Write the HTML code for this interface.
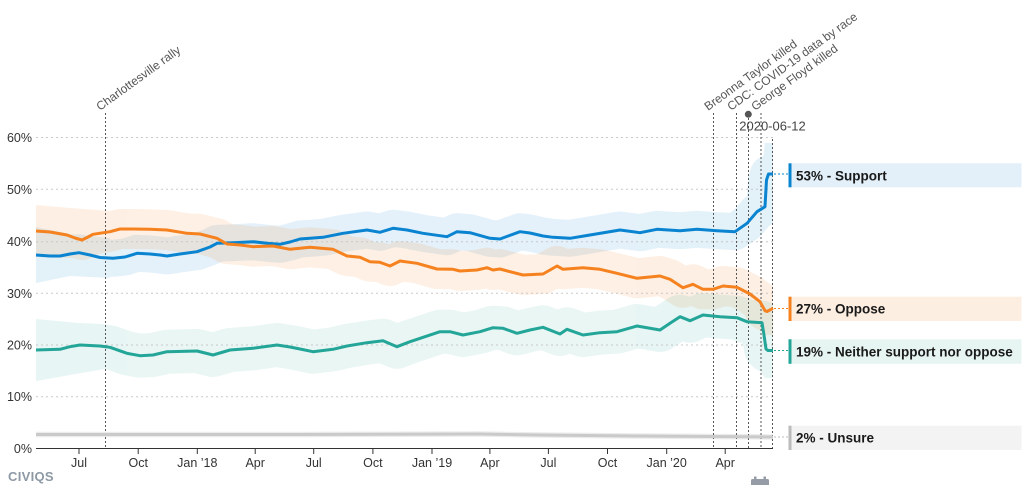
<!DOCTYPE html>
<html>
<head>
<meta charset="utf-8">
<style>
html,body{margin:0;padding:0;background:#fff;}
svg{display:block;font-family:"Liberation Sans",Arial,sans-serif;}
</style>
</head>
<body>
<svg width="1024" height="485" viewBox="0 0 1024 485" xmlns="http://www.w3.org/2000/svg">
<defs>
<clipPath id="plot"><rect x="36" y="100" width="737" height="348"/></clipPath>
</defs>
<!-- confidence bands -->
<g clip-path="url(#plot)">
<g opacity="0.11">
<path fill="none" stroke="#0a84d0" stroke-width="37" stroke-linejoin="round" stroke-linecap="butt" d="M36,255 L50,256 L60,256 L70,254 L79,252.7 L90,255 L100,257.5 L113,258.3 L125,257 L137,253.3 L150,254 L160,255 L167,256 L180,254 L197,251.7 L210,247 L217,243.3 L233,242.7 L253,241.7 L267,243.3 L280,244.3 L290,242 L300,239 L310,238.3 L323,237.3 L343,233.3 L367,230 L380,232.3 L393,228.3 L407,230 L423,233.3 L447,236.7 L457,231.7 L470,232.7 L490,238.3 L500,239 L520,231.7 L530,233 L543,236 L553,237.3 L570,238.3 L590,235 L620,230 L640,232.7 L657,229.3 L680,230.7 L697,229.3 L717,230.7 L735,231.7 L747,223.3 L757,211.7 L765,206.7 L766.5,180 L768.5,174 L773,174"/>
<polygon fill="#0a84d0" points="36,227 70,234 110,238 110,278 70,276 36,283"/>
<polygon fill="#0a84d0" points="737,216 760,184 765,143 773,143 773,205 765,215 760,228 737,247"/>
</g>
<g opacity="0.12">
<path fill="none" stroke="#f5821f" stroke-width="40" stroke-linejoin="round" stroke-linecap="butt" d="M36,231 L50,232 L67,235 L75,238 L82,240 L88,237 L93,234.3 L110,231.7 L120,229 L133,229 L150,229.3 L167,230 L187,233.3 L200,234 L217,238.3 L227,244 L240,245 L253,246.7 L273,246 L290,249.3 L310,247.3 L333,249.3 L347,256 L360,257.3 L370,261.7 L380,262.3 L390,266 L400,261 L417,263.3 L437,269 L453,269.3 L460,271 L477,270 L487,267.7 L493,270 L500,269 L510,271.7 L523,275 L543,274 L557,266 L563,269.3 L583,267.7 L600,269.3 L617,273.3 L637,278.3 L660,276 L670,279.3 L683,287.7 L693,284.3 L703,289.3 L713,289.3 L723,286 L737,287.3 L750,294 L760,301.7 L765,310.7 L767,311.5 L773,308.3"/>
<polygon fill="#f5821f" points="36,205 70,208 110,211 110,252 70,258 36,257"/>
<polygon fill="#f5821f" points="740,270 765,285 773,285 773,335 765,335 740,305"/>
</g>
<g opacity="0.1">
<path fill="none" stroke="#23a598" stroke-width="44" stroke-linejoin="round" stroke-linecap="butt" d="M36,350 L60,349.3 L70,346.7 L80,345 L100,346 L110,347.3 L127,353.3 L140,355.7 L153,355 L167,351.7 L197,351 L213,355 L230,350 L253,348.3 L277,345 L290,347 L300,349 L313,351.7 L333,349.3 L347,346 L367,342.7 L383,340.7 L397,346.7 L410,341.7 L440,331.7 L450,331.7 L463,335 L480,331.7 L493,327.7 L503,328.3 L517,333.3 L530,330 L543,327.3 L560,334 L567,329.3 L583,335 L600,332.7 L617,331.7 L637,326 L660,330 L670,323.3 L680,316.7 L690,320.7 L703,315 L720,316.7 L737,317.7 L747,321.7 L762,322.7 L764,335 L766,349 L768,350.5 L773,350.5"/>
<polygon fill="#23a598" points="36,319 110,326 110,368 36,381"/>
<polygon fill="#23a598" points="740,300 762,300 765,322 773,322 773,378 765,378 740,340"/>
</g>
<path fill="none" stroke="#ececec" stroke-width="5.5" d="M36,434.5 L300,434.5 L480,434 L540,435 L640,436 L773,437"/>
</g>

<!-- gridlines -->
<g stroke="#c8c8c8" stroke-width="1" stroke-dasharray="2,3">
<line x1="36" y1="137.5" x2="773" y2="137.5"/>
<line x1="36" y1="189.3" x2="773" y2="189.3"/>
<line x1="36" y1="241.7" x2="773" y2="241.7"/>
<line x1="36" y1="293.3" x2="773" y2="293.3"/>
<line x1="36" y1="345" x2="773" y2="345"/>
<line x1="36" y1="396.7" x2="773" y2="396.7"/>
</g>

<!-- event lines -->
<g stroke="#555" stroke-width="1" stroke-dasharray="2,2">
<line x1="105.5" y1="113" x2="105.5" y2="448"/>
<line x1="713.5" y1="113" x2="713.5" y2="448"/>
<line x1="736.5" y1="113" x2="736.5" y2="448"/>
<line x1="748.5" y1="114" x2="748.5" y2="448"/>
<line x1="761" y1="113" x2="761" y2="448"/>
<line x1="772.5" y1="139" x2="772.5" y2="448"/>
</g>
<circle cx="748.3" cy="114.3" r="3.5" fill="#555"/>

<!-- series -->
<path fill="none" stroke="#cacaca" stroke-width="3" stroke-linejoin="round" d="M36,434.5 L300,434.5 L480,434 L540,435 L640,436 L773,437"/>
<path fill="none" stroke="#0a84d0" stroke-width="3" stroke-linejoin="round" d="M36,255 L50,256 L60,256 L70,254 L79,252.7 L90,255 L100,257.5 L113,258.3 L125,257 L137,253.3 L150,254 L160,255 L167,256 L180,254 L197,251.7 L210,247 L217,243.3 L233,242.7 L253,241.7 L267,243.3 L280,244.3 L290,242 L300,239 L310,238.3 L323,237.3 L343,233.3 L367,230 L380,232.3 L393,228.3 L407,230 L423,233.3 L447,236.7 L457,231.7 L470,232.7 L490,238.3 L500,239 L520,231.7 L530,233 L543,236 L553,237.3 L570,238.3 L590,235 L620,230 L640,232.7 L657,229.3 L680,230.7 L697,229.3 L717,230.7 L735,231.7 L747,223.3 L757,211.7 L765,206.7 L766.5,180 L768.5,174 L773,174"/>
<path fill="none" stroke="#f5821f" stroke-width="3" stroke-linejoin="round" d="M36,231 L50,232 L67,235 L75,238 L82,240 L88,237 L93,234.3 L110,231.7 L120,229 L133,229 L150,229.3 L167,230 L187,233.3 L200,234 L217,238.3 L227,244 L240,245 L253,246.7 L273,246 L290,249.3 L310,247.3 L333,249.3 L347,256 L360,257.3 L370,261.7 L380,262.3 L390,266 L400,261 L417,263.3 L437,269 L453,269.3 L460,271 L477,270 L487,267.7 L493,270 L500,269 L510,271.7 L523,275 L543,274 L557,266 L563,269.3 L583,267.7 L600,269.3 L617,273.3 L637,278.3 L660,276 L670,279.3 L683,287.7 L693,284.3 L703,289.3 L713,289.3 L723,286 L737,287.3 L750,294 L760,301.7 L765,310.7 L767,311.5 L773,308.3"/>
<path fill="none" stroke="#23a598" stroke-width="3" stroke-linejoin="round" d="M36,350 L60,349.3 L70,346.7 L80,345 L100,346 L110,347.3 L127,353.3 L140,355.7 L153,355 L167,351.7 L197,351 L213,355 L230,350 L253,348.3 L277,345 L290,347 L300,349 L313,351.7 L333,349.3 L347,346 L367,342.7 L383,340.7 L397,346.7 L410,341.7 L440,331.7 L450,331.7 L463,335 L480,331.7 L493,327.7 L503,328.3 L517,333.3 L530,330 L543,327.3 L560,334 L567,329.3 L583,335 L600,332.7 L617,331.7 L637,326 L660,330 L670,323.3 L680,316.7 L690,320.7 L703,315 L720,316.7 L737,317.7 L747,321.7 L762,322.7 L764,335 L766,349 L768,350.5 L773,350.5"/>

<!-- connectors -->
<g stroke-width="1" stroke-dasharray="2,2">
<line x1="774" y1="174" x2="788" y2="174" stroke="#0a84d0"/>
<line x1="774" y1="308.5" x2="788" y2="308.5" stroke="#f5821f"/>
<line x1="774" y1="350.5" x2="788" y2="350.5" stroke="#23a598"/>
<line x1="774" y1="437" x2="788" y2="437" stroke="#bbbbbb"/>
</g>

<!-- axis -->
<line x1="36" y1="448.5" x2="773" y2="448.5" stroke="#333" stroke-width="1"/>
<g stroke="#333" stroke-width="1">
<line x1="79" y1="449" x2="79" y2="454"/>
<line x1="138.2" y1="449" x2="138.2" y2="454"/>
<line x1="197.3" y1="449" x2="197.3" y2="454"/>
<line x1="255.2" y1="449" x2="255.2" y2="454"/>
<line x1="313.7" y1="449" x2="313.7" y2="454"/>
<line x1="372.9" y1="449" x2="372.9" y2="454"/>
<line x1="432" y1="449" x2="432" y2="454"/>
<line x1="489.9" y1="449" x2="489.9" y2="454"/>
<line x1="548.4" y1="449" x2="548.4" y2="454"/>
<line x1="607.5" y1="449" x2="607.5" y2="454"/>
<line x1="666.7" y1="449" x2="666.7" y2="454"/>
<line x1="725.2" y1="449" x2="725.2" y2="454"/>
</g>
<g font-size="12.5" fill="#333" text-anchor="end">
<text x="32" y="142">60%</text>
<text x="32" y="194">50%</text>
<text x="32" y="246">40%</text>
<text x="32" y="298">30%</text>
<text x="32" y="349.5">20%</text>
<text x="32" y="401">10%</text>
<text x="32" y="453">0%</text>
</g>
<g font-size="12.5" fill="#333" text-anchor="middle">
<text x="79" y="467">Jul</text>
<text x="138.2" y="467">Oct</text>
<text x="197.3" y="467">Jan ’18</text>
<text x="255.2" y="467">Apr</text>
<text x="313.7" y="467">Jul</text>
<text x="372.9" y="467">Oct</text>
<text x="432" y="467">Jan ’19</text>
<text x="489.9" y="467">Apr</text>
<text x="548.4" y="467">Jul</text>
<text x="607.5" y="467">Oct</text>
<text x="666.7" y="467">Jan ’20</text>
<text x="725.2" y="467">Apr</text>
</g>

<!-- event labels -->
<g font-size="12" fill="#555">
<text x="100" y="111" transform="rotate(-36 100 111)">Charlottesville rally</text>
<text x="708" y="111" transform="rotate(-36 708 111)">Breonna Taylor killed</text>
<text x="731" y="111" transform="rotate(-36 731 111)">CDC: COVID-19 data by race</text>
<text x="755" y="111" transform="rotate(-36 755 111)">George Floyd killed</text>
</g>
<text x="772.5" y="130.5" font-size="13" fill="#444" text-anchor="middle">2020-06-12</text>

<!-- legend -->
<rect x="788.5" y="163.3" width="233" height="24" fill="#e3f0f9"/>
<rect x="788.5" y="163.3" width="3" height="24" fill="#0a84d0"/>
<text x="796" y="180.3" font-size="13.5" font-weight="bold" fill="#1a1a1a">53% - Support</text>

<rect x="788.5" y="296.7" width="233" height="24.3" fill="#fdeee2"/>
<rect x="788.5" y="296.7" width="3" height="24.3" fill="#f5821f"/>
<text x="796" y="313.7" font-size="13.5" font-weight="bold" fill="#1a1a1a">27% - Oppose</text>

<rect x="788.5" y="339.3" width="233" height="24.5" fill="#e7f5f2"/>
<rect x="788.5" y="339.3" width="3" height="24.5" fill="#23a598"/>
<text x="796" y="356.3" font-size="13.5" font-weight="bold" fill="#1a1a1a">19% - Neither support nor oppose</text>

<rect x="788.5" y="425.7" width="233" height="24.3" fill="#f3f3f3"/>
<rect x="788.5" y="425.7" width="3" height="24.3" fill="#bbbbbb"/>
<text x="796" y="442.7" font-size="13.5" font-weight="bold" fill="#1a1a1a">2% - Unsure</text>

<!-- logo -->
<text x="8" y="481" font-size="13" font-weight="bold" fill="#8d99a5" letter-spacing="0.3">CIVIQS</text>

<!-- calendar icon -->
<g fill="#959ca5">
<rect x="751" y="479" width="18" height="8" rx="1.5"/>
<rect x="754" y="476.5" width="2.5" height="4"/>
<rect x="763.5" y="476.5" width="2.5" height="4"/>
</g>
</svg>
</body>
</html>
